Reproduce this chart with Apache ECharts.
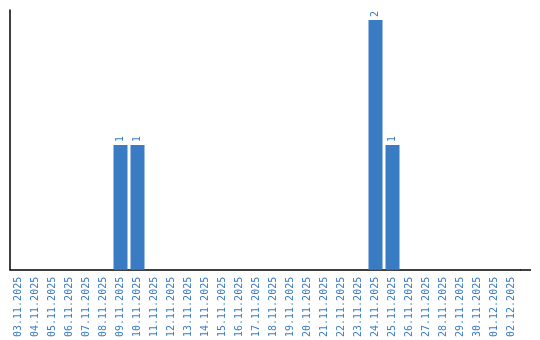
<!DOCTYPE html>
<html><head><meta charset="utf-8">
<script src="https://cdn.jsdelivr.net/npm/echarts@6/dist/echarts.min.js"></script>
<style>html,body{margin:0;padding:0;background:#fff}#c{width:540px;height:340px}</style>
</head><body><div id="c"></div>
<script>
const categories = ['03.11.2025','04.11.2025','05.11.2025','06.11.2025','07.11.2025','08.11.2025','09.11.2025','10.11.2025','11.11.2025','12.11.2025','13.11.2025','14.11.2025','15.11.2025','16.11.2025','17.11.2025','18.11.2025','19.11.2025','20.11.2025','21.11.2025','22.11.2025','23.11.2025','24.11.2025','25.11.2025','26.11.2025','27.11.2025','28.11.2025','29.11.2025','30.11.2025','01.12.2025','02.12.2025'];
const values = [0,0,0,0,0,0,1,1,0,0,0,0,0,0,0,0,0,0,0,0,0,2,1,0,0,0,0,0,0,0];
const blue = '#3a7cc3';
const W = 540, H = 340;
const grid = {left:10,right:20,top:10,bottom:70};
const chart = echarts.init(document.getElementById('c'), null, {renderer:'canvas'});
chart.setOption({
  animation:false,
  grid:Object.assign({containLabel:false},grid),
  graphic:[{type:'line',silent:true,
    shape:{x1:W-grid.right,y1:H-grid.bottom,x2:W-9,y2:H-grid.bottom},
    style:{stroke:'#000',lineWidth:1.5}}],
  xAxis:{type:'category',data:categories,
    axisLine:{lineStyle:{color:'#000',width:1.5}},
    axisTick:{show:false},
    axisLabel:{rotate:90,interval:0,margin:7,color:blue,fontFamily:'DejaVu Sans Mono',fontSize:10}},
  yAxis:{type:'value',min:0,max:2.08,
    axisLine:{show:true,lineStyle:{color:'#000',width:1.5}},
    axisTick:{show:false},axisLabel:{show:false},splitLine:{show:false}},
  series:[{type:'bar',data:values.map(v=>v===0?null:v),barWidth:14,
    itemStyle:{color:blue},
    label:{show:true,position:'top',rotate:90,align:'left',verticalAlign:'middle',distance:3,
      color:blue,fontFamily:'DejaVu Sans Mono',fontSize:10}}]
});
</script></body></html>
